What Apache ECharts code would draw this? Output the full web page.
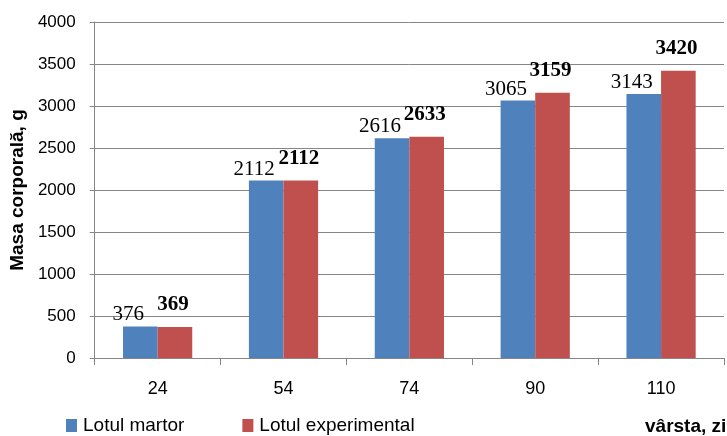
<!DOCTYPE html>
<html>
<head>
<meta charset="utf-8">
<script src="https://cdn.jsdelivr.net/npm/echarts@6/dist/echarts.min.js"></script>
<style>html,body{margin:0;padding:0;background:#fff;}#c{width:727px;height:436px;}</style>
</head>
<body>
<div id="c"></div>
<script>
const categories = ['24', '54', '74', '90', '110'];
const lotulMartor = [376, 2112, 2616, 3065, 3143];
const lotulExperimental = [369, 2112, 2633, 3159, 3420];
const seriesNames = ['Lotul martor', 'Lotul experimental'];
const yTicks = { min: 0, max: 4000, interval: 500 };

const chart = echarts.init(document.getElementById('c'), null, { renderer: 'canvas' });
const axisFont = 'Liberation Sans';
chart.setOption({
  animation: false,
  backgroundColor: '#ffffff',
  title: [{
    text: 'vârsta, zile',
    left: 640, top: 412,
    textStyle: { fontFamily: 'Liberation Sans', fontWeight: 'bold', fontSize: 19, color: '#000' }
  }],
  legend: {
    data: seriesNames,
    left: 66, top: 416,
    padding: 0,
    itemGap: 58,
    itemWidth: 11, itemHeight: 13,
    icon: 'rect',
    textStyle: { fontFamily: axisFont, fontSize: 19, color: '#000', padding: [0, 0, 0, 1] }
  },
  grid: { left: 89, right: 3, top: 22, bottom: 78, containLabel: false },
  xAxis: {
    type: 'category',
    data: categories,
    axisLine: { lineStyle: { color: '#868686', width: 1 } },
    axisTick: { show: true, length: 7, lineStyle: { color: '#868686' } },
    axisLabel: { margin: 22, fontFamily: axisFont, fontSize: 18, color: '#000' }
  },
  yAxis: {
    type: 'value',
    min: yTicks.min, max: yTicks.max, interval: yTicks.interval,
    name: 'Masa corporală, g',
    nameLocation: 'middle',
    nameGap: 65,
    nameTextStyle: { fontFamily: axisFont, fontWeight: 'bold', fontSize: 19, color: '#000' },
    axisLine: { show: true, lineStyle: { color: '#868686', width: 1 } },
    axisTick: { show: true, length: 5, lineStyle: { color: '#868686' } },
    splitLine: { show: true, lineStyle: { color: '#868686', width: 1 } },
    axisLabel: { margin: 19, fontFamily: axisFont, fontSize: 17, color: '#000',
      formatter: function (v) { return String(v); } }
  },
  series: [
    {
      name: seriesNames[0], type: 'bar', data: lotulMartor,
      barGap: '0%', barCategoryGap: '45%',
      itemStyle: { color: '#4F81BD' },
      label: { show: true, position: 'top', distance: 5, offset: [-12, 4],
        fontFamily: 'Liberation Serif', fontSize: 21, color: '#000' }
    },
    {
      name: seriesNames[1], type: 'bar', data: lotulExperimental,
      barGap: '0%', barCategoryGap: '45%',
      itemStyle: { color: '#C0504D' },
      label: { show: true, position: 'top', distance: 5, offset: [-2, -7],
        fontFamily: 'Liberation Serif', fontWeight: 'bold', fontSize: 21, color: '#000' }
    }
  ]
});
</script>
</body>
</html>
